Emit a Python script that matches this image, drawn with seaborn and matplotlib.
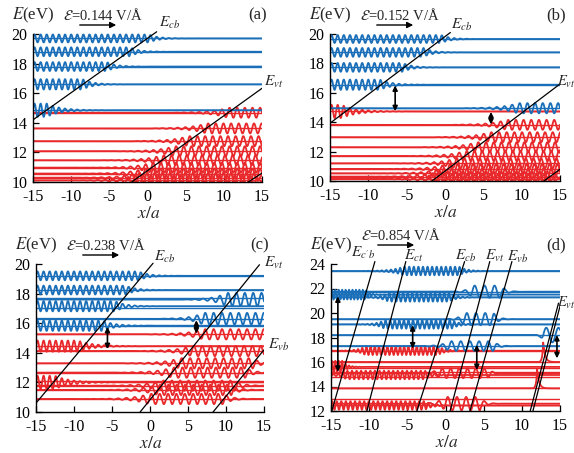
import numpy as np
import matplotlib
matplotlib.use("Agg")
import matplotlib.pyplot as plt
import seaborn as sns

# ---------------- data ----------------
FIELDS = ["0.144", "0.152", "0.238", "0.854"]
PANEL_TAGS = ["(a)", "(b)", "(c)", "(d)"]
X_TICKS = [-15, -10, -5, 0, 5, 10, 15]

# level energies (eV)
A_BLUE = [19.70, 18.80, 17.80, 16.60, 14.85]
A_RED = [14.68, 13.62, 12.76, 12.08, 11.47, 10.97, 10.57, 10.29, 10.11]
B_BLUE = [19.66, 18.75, 17.73, 16.55, 14.95]
B_RED = [14.73, 13.82, 12.98, 12.30, 11.70, 11.20, 10.82, 10.52, 10.30, 10.14]
C_BLUE = [19.20, 18.24, 17.72, 17.05, 16.30, 15.80]
C_RED = [15.25, 14.45, 14.12, 13.29, 12.66, 12.10, 11.78, 11.49, 10.88]
D_BLUE = [23.43, 21.74, 21.28, 19.50, 19.07, 18.20, 17.30]
D_RED = [16.92, 16.00, 15.53, 15.20, 14.80, 13.85, 12.95, 12.49]

# wave packets: (centre E, x start, x end, amplitude, period, left tail, right tail)
A_BLUE_W = [(19.70, -15, 0.2, 0.27, 0.8, 1, 1.2), (18.80, -15, -2.3, 0.30, 0.8, 1, 1.2),
            (17.80, -15, -5.3, 0.30, 0.8, 1, 1.2), (16.60, -15, -8.5, 0.35, 0.8, 1, 1.3),
            (14.85, -15, -13.2, 0.45, 0.8, 1, 1.8)]
A_RED_W = [(14.68, 10.5, 16, 0.34, 1.0, 2, 1), (13.62, 7.7, 16, 0.34, 1.0, 2, 1),
           (12.76, 5.3, 16, 0.34, 1.0, 2, 1), (12.08, 3.5, 16, 0.34, 1.0, 2, 1),
           (11.47, 1.9, 16, 0.34, 1.0, 2, 1), (10.97, 0.5, 16, 0.34, 1.0, 2, 1),
           (10.57, -0.5, 14.8, 0.34, 1.0, 2, 1), (10.29, -1.3, 14.0, 0.34, 1.0, 2, 1),
           (10.11, -1.8, 13.5, 0.34, 1.0, 2, 1)]
B_BLUE_W = [(19.66, -15, -0.5, 0.27, 0.8, 1, 1.2), (18.75, -15, -2.8, 0.30, 0.8, 1, 1.2),
            (17.73, -15, -5.5, 0.30, 0.8, 1, 1.2), (16.55, -15, -8.5, 0.35, 0.8, 1, 1.5),
            (14.95, 9.5, 16, 0.35, 1.0, 2, 1)]
B_RED_W = [(14.73, -15, -13.5, 0.45, 0.8, 1, 2), (13.82, 8.0, 16, 0.34, 1.0, 2, 1),
           (12.98, 5.8, 16, 0.34, 1.0, 2, 1), (12.30, 4.1, 16, 0.34, 1.0, 2, 1),
           (11.70, 2.6, 16, 0.34, 1.0, 2, 1), (11.20, 1.3, 16, 0.34, 1.0, 2, 1),
           (10.82, 0.4, 15.0, 0.34, 1.0, 2, 1), (10.52, -0.4, 14.3, 0.34, 1.0, 2, 1),
           (10.30, -0.9, 13.7, 0.34, 1.0, 2, 1), (10.14, -1.35, 13.3, 0.34, 1.0, 2, 1)]
C_BLUE_W = [(19.20, -15, -1.5, 0.30, 0.8, 1, 1.3), (18.24, -15, -3.2, 0.30, 0.8, 1, 1.3),
            (17.60, 10.0, 16, 0.45, 1.1, 1.5, 1), (17.15, -15, -4.6, 0.35, 0.8, 1, 1.3),
            (16.30, 7.0, 16, 0.40, 1.1, 1.5, 1), (15.83, -15, -6.2, 0.35, 0.8, 1, 1.5)]
C_RED_W = [(15.25, 7.0, 16, 0.35, 1.1, 2, 1), (14.45, -15, -9.5, 0.38, 0.8, 1, 2),
           (14.12, 5.5, 14.8, 0.35, 1.1, 2, 1), (13.29, 3.9, 13.5, 0.35, 1.1, 2, 1),
           (12.66, 2.9, 12.5, 0.35, 1.1, 2, 1), (12.00, -15, -12.5, 0.45, 0.8, 1, 2),
           (11.78, 1.5, 11.1, 0.35, 1.1, 2, 1), (11.49, 1.05, 10.7, 0.35, 1.1, 2, 1),
           (10.88, -0.1, 9.7, 0.35, 1.1, 2, 1)]
D_BLUE_W = [(23.43, -5.5, 1.8, 0.35, 0.6, 1.5, 1.0), (21.50, -15, -10.5, 0.40, 0.45, 1, 0.6),
            (21.28, -7.5, 0.5, 0.35, 0.6, 1, 1), (21.74, 3.5, 7.3, 0.50, 1.3, 0.7, 0.6),
            (19.07, -8.0, 0.8, 0.35, 0.6, 1, 1), (19.50, 2.5, 6.3, 0.50, 1.2, 0.7, 0.6),
            (17.30, 0.5, 6.3, 0.40, 1.2, 1, 0.6), (18.20, 12.8, 15, 0.60, 1.6, 0.3, 0.5)]
D_RED_W = [(16.92, -10.5, -1.0, 0.35, 0.55, 1, 1), (15.60, -15, -13.5, 0.50, 0.45, 0.5, 0.6),
           (14.94, -13, -2.7, 0.35, 0.6, 1, 1), (15.08, -0.7, 5.5, 0.40, 1.1, 1, 0.6),
           (12.45, -15, -2.7, 0.35, 0.6, 1, 1), (12.60, 0.0, 4.5, 0.55, 1.2, 1, 0.6)]
# sharp peaks: (E, x0, height, left width, right width)
D_SPIKES = [(16.00, 12.8, 1.6, 0.12, 0.25), (13.85, 12.0, 1.6, 0.12, 0.25)]

# band-edge lines: (x0, E0, x1, E1)
A_EDGES = [(-15, 14.2, 1.2, 20.15), (-2.08, 10, 15, 16.33), (13.2, 10, 15, 10.6)]
B_EDGES = [(-15, 13.93, 0.7, 20.1), (-1.7, 10, 15, 16.6), (12.9, 10, 15, 10.8)]
C_EDGES = [(-15, 10.6, 0.4, 20.05), (-1.3, 10, 14.4, 19.95), (8.3, 10, 15, 14.2)]
D_EDGES = [(-14.9, 12, -9.25, 24.2), (-10.3, 12, -5.2, 24.2), (-3.75, 12, 2.5, 24.2),
           (0.6, 12, 5.8, 24.2), (3.2, 12, 8.7, 24.2), (11.1, 12, 14.8, 20.8), (11.45, 12, 15.1, 20.8)]

# double arrows: (x, E low, E high)
B_ARROWS = [(-6.5, 14.75, 16.5), (6.0, 13.85, 14.7)]
C_ARROWS = [(-5.6, 14.25, 15.75), (6.1, 15.3, 16.2)]
D_ARROWS = [(-14.1, 15.2, 21.35), (-4.3, 17.1, 19.0), (4.1, 15.35, 17.4), (14.6, 16.3, 18.2)]

# edge labels
A_EDGE_LAB = [("$E_{cb}$", 170, 23, "center"), ("$E_{vt}$", 264, 82, "left")]
B_EDGE_LAB = [("$E_{cb}$", 462, 25, "center"), ("$E_{vt}$", 557, 82, "left")]
C_EDGE_LAB = [("$E_{cb}$", 165, 257, "center"), ("$E_{vt}$", 274, 263, "center"),
              ("$E_{vb}$", 268, 345, "left")]
D_EDGE_LAB = [("$E_{c'b}$", 363, 253, "center"), ("$E_{ct}$", 414, 256, "center"),
              ("$E_{cb}$", 466, 256, "center"), ("$E_{vt}$", 495, 256, "center"),
              ("$E_{vb}$", 518, 257, "center"), ("$E_{vt}$", 557, 303, "left")]

BLUE = "#1a6fb8"
RED = "#e8282b"

# ---------------- style ----------------
sns.set_theme(style="ticks")
plt.rcParams.update({
    "font.family": ["Liberation Serif", "DejaVu Serif"],
    "mathtext.fontset": "stix",
    "axes.unicode_minus": False,
    "xtick.direction": "in", "ytick.direction": "in",
    "axes.linewidth": 1.0,
    "xtick.major.size": 4, "ytick.major.size": 4,
    "xtick.major.width": 0.9, "ytick.major.width": 0.9,
    "xtick.color": "black", "ytick.color": "black",
    "axes.edgecolor": "black",
})

W, H = 574, 453
fig = plt.figure(figsize=(W / 100, H / 100), dpi=100)
XG = np.linspace(-15, 15, 2400)


def packet(E, xs, xe, amp, per, tl, tr):
    env = np.ones_like(XG)
    env = np.where(XG < xs, np.exp(-(xs - XG) / tl), env)
    env = np.where(XG > xe, np.exp(-(XG - xe) / tr), env)
    return E + amp * env * np.sin(2 * np.pi * (XG - xs) / per)


def spike(E, x0, h, wl, wr):
    return E + h * np.where(XG < x0, np.exp(-(x0 - XG) / wl), np.exp(-(XG - x0) / wr))


def ftext(px, py, s, size=11, ha="center", va="center"):
    fig.text(px / W, 1 - py / H, s, fontsize=size, ha=ha, va=va)


def panel(box, e0, e1, yticks, blue, red, bw, rw, edges, arrows, elabs,
          field, tag, spikes=(), fdy=0):
    xl, xr, yt, yb = box
    m = 0.6 if e1 - e0 < 11 else 0.8
    ext = (yb - yt) * (e1 + m - e0) / (e1 - e0)
    ax = fig.add_axes([xl / W, 1 - yb / H, (xr - xl) / W, ext / H])
    ax.set_facecolor("none")
    ax.set_xlim(-15, 15)
    ax.set_ylim(e0, e1 + m)
    for s in ["top", "right"]:
        ax.spines[s].set_visible(False)
    ax.spines["left"].set_bounds(e0, e1)
    ax.set_xticks(X_TICKS)
    ax.set_xticklabels([str(t) for t in X_TICKS])
    ax.set_yticks(yticks)
    ax.set_yticklabels([str(t) for t in yticks])
    ax.tick_params(labelsize=11.5, pad=4)
    ax.tick_params(axis="x", pad=5)

    ax.hlines(red, -15, 15, color=RED, lw=1.0)
    ax.hlines(blue, -15, 15, color=BLUE, lw=1.0)
    for w in rw:
        sns.lineplot(x=XG, y=packet(*w), color=RED, lw=1.3, ax=ax, sort=False, estimator=None)
    for sp in spikes:
        sns.lineplot(x=XG, y=spike(*sp), color=RED, lw=1.3, ax=ax, sort=False, estimator=None)
    for w in bw:
        sns.lineplot(x=XG, y=packet(*w), color=BLUE, lw=1.3, ax=ax, sort=False, estimator=None)
    for x0, y0, x1, y1 in edges:
        ax.plot([x0, x1], [y0, y1], color="black", lw=0.9)
    for x, lo, hi in arrows:
        ax.annotate("", xy=(x, hi), xytext=(x, lo),
                    arrowprops=dict(arrowstyle="<|-|>", color="black", lw=1.2,
                                    mutation_scale=7, shrinkA=0, shrinkB=0))
    ax.set_xlabel("")
    ax.set_ylabel("")
    for s, px, py, ha in elabs:
        ftext(px, py, s, size=10.5 if ha == "left" and px > 550 else 11, ha=ha)

    # headers
    ftext(xl - 21, yt - 19, "$E$(eV)", size=12, ha="left")
    ftext(xl + 30, yt - 19 + fdy, r"$\mathcal{E}$=" + field + " V/Å", size=10.5, ha="left")
    fig.add_artist(matplotlib.patches.FancyArrowPatch(
        ((xl + 44) / W, 1 - (yt - 9 + fdy) / H), ((xl + 86) / W, 1 - (yt - 9 + fdy) / H),
        transform=fig.transFigure, arrowstyle="-|>", mutation_scale=9, lw=1.0, color="black"))
    ftext(xr - 4, yt - 19, tag, size=12)
    ftext((xl + xr) / 2 + 1, yb + 32, "$x/a$", size=12.5)
    return ax


panel((33, 262, 34, 182), 10, 20, [10, 12, 14, 16, 18, 20], A_BLUE, A_RED, A_BLUE_W, A_RED_W,
      A_EDGES, [], A_EDGE_LAB, FIELDS[0], PANEL_TAGS[0])
panel((330, 560, 34, 181), 10, 20, [10, 12, 14, 16, 18, 20], B_BLUE, B_RED, B_BLUE_W, B_RED_W,
      B_EDGES, B_ARROWS, B_EDGE_LAB, FIELDS[1], PANEL_TAGS[1])
panel((36, 264, 264, 412), 10, 20, [10, 12, 14, 16, 18, 20], C_BLUE, C_RED, C_BLUE_W, C_RED_W,
      C_EDGES, C_ARROWS, C_EDGE_LAB, FIELDS[2], PANEL_TAGS[2])
panel((331, 560, 264, 411), 12, 24, [12, 14, 16, 18, 20, 22, 24], D_BLUE, D_RED, D_BLUE_W, D_RED_W,
      D_EDGES, D_ARROWS, D_EDGE_LAB, FIELDS[3], PANEL_TAGS[3], spikes=D_SPIKES, fdy=-10)

fig.savefig("out.png", dpi=100)
